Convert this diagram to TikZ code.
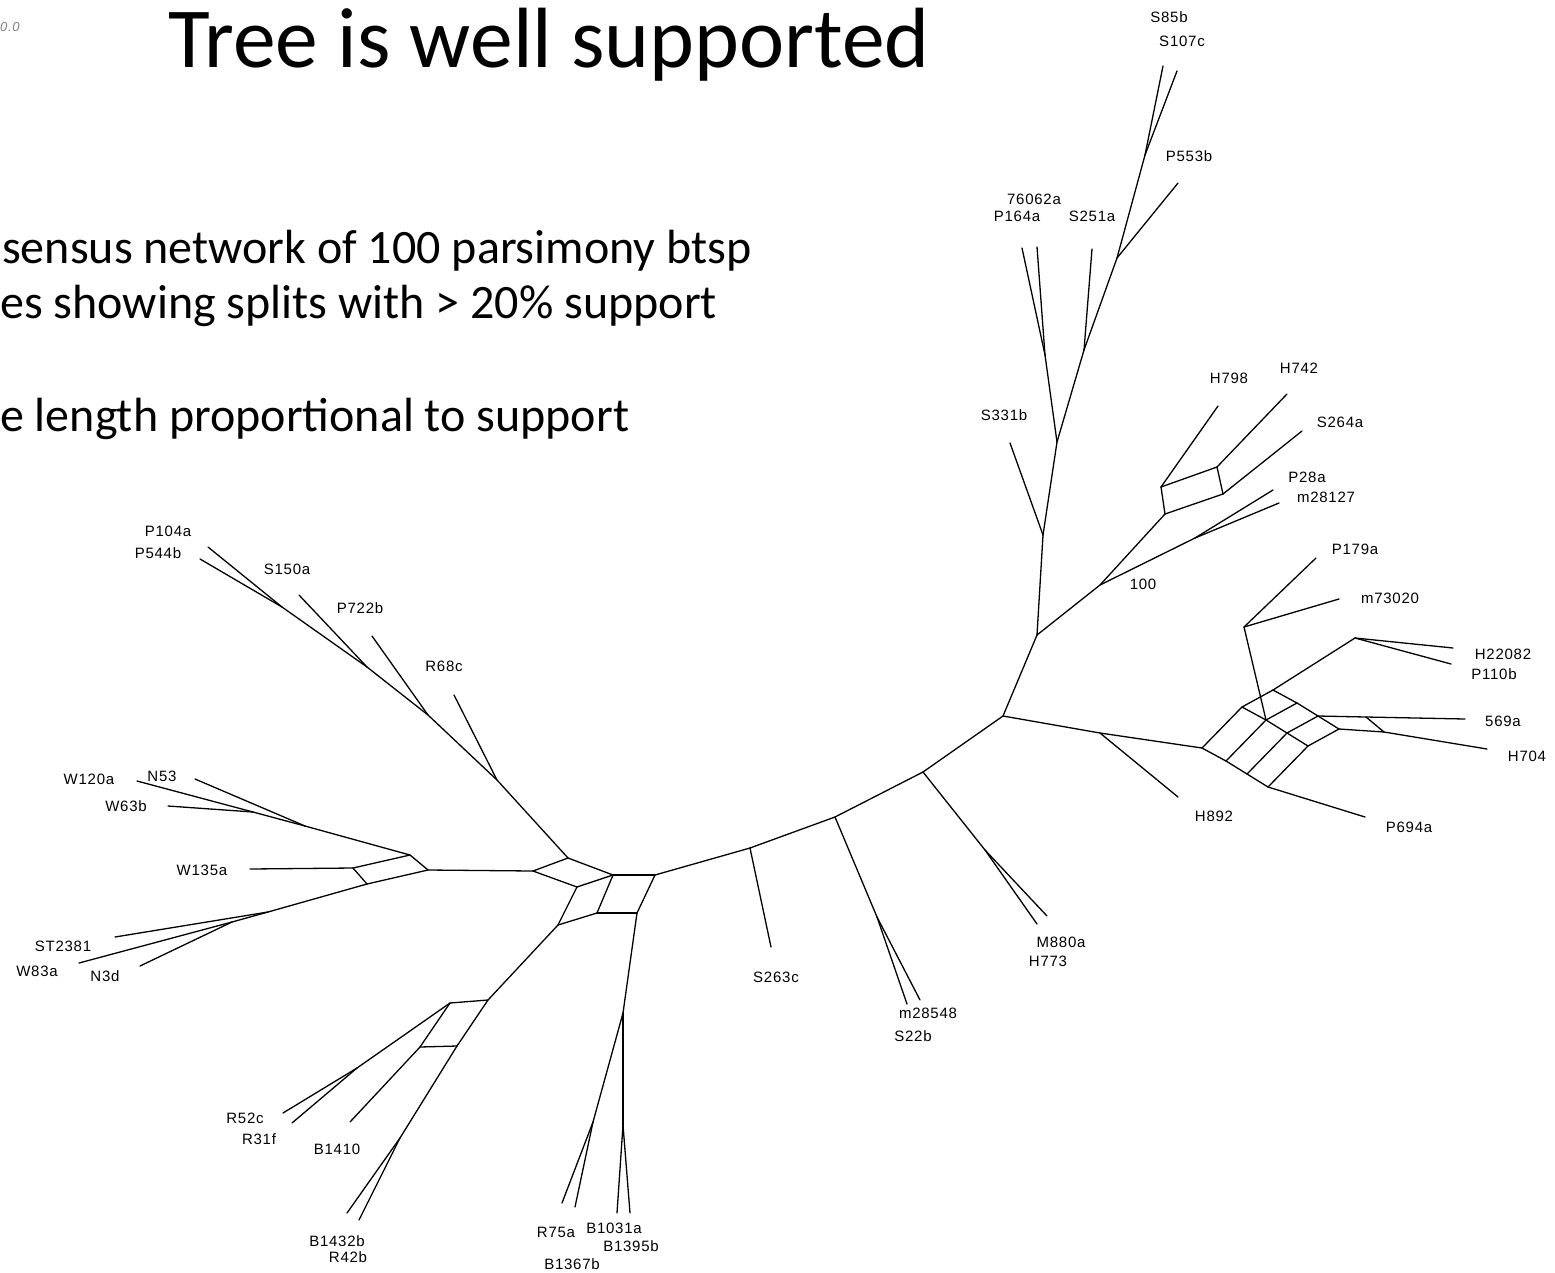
\documentclass[tikz,border=0pt]{standalone}
\usepackage{fontspec}
\setmainfont{Carlito}
\newfontfamily\labfont[LetterSpace=5]{Liberation Sans}
\begin{document}
\begin{tikzpicture}[x=1pt,y=-1pt,
  edge/.style={line width=1.3pt, line cap=round, line join=round},
  lab/.style={font=\labfont\fontsize{15}{15}\selectfont, inner sep=0pt},
  body/.style={font=\fontsize{48}{56}\selectfont, anchor=base west, inner sep=0pt}]
\useasboundingbox (0,0) rectangle (1555,1272);

% ---------- headings ----------
\node[font=\fontsize{85.5}{90}\selectfont, anchor=base west, inner sep=0pt] (title) at (168,67) {Tree is well supported};
\node[body] (line1) at (2,263) {sensus network of 100 parsimony btsp};
\node[body] (line2) at (0,318) {es showing splits with > 20\% support};
\node[body] (line3) at (0,431) {e length proportional to support};
\node[font=\labfont\itshape\fontsize{13}{13}\selectfont, text=gray, anchor=west, inner sep=0pt] (scalebar) at (0,27) {0.0};

% ---------- central reticulation ----------
\coordinate (C1) at (568,858);
\coordinate (C2) at (533,871);
\coordinate (C3) at (577,887);
\coordinate (C4) at (613,875);
\coordinate (C5) at (655,875);
\coordinate (C6) at (597,913);
\coordinate (C7) at (637,913);
\coordinate (C8) at (558,925);

% ---------- arc towards the right ----------
\coordinate (A1) at (750,848);
\coordinate (A2) at (835,817);
\coordinate (A3) at (923,772);
\coordinate (A4) at (1003,716);
\coordinate (J1) at (877,917);
\coordinate (J2) at (985,850);
\coordinate (R1) at (1100,733);

% ---------- upper trunk ----------
\coordinate (T1) at (1037,635);
\coordinate (T2) at (1043,535);
\coordinate (T3) at (1057,442);
\coordinate (T4) at (1045,355);
\coordinate (T5) at (1084,350);
\coordinate (T6) at (1117,258);
\coordinate (T7) at (1145,155);

% ---------- clade with support 100 ----------
\coordinate (U1) at (1100,585);
\coordinate (U2) at (1195,538);
\coordinate (B1) at (1165,514);
\coordinate (B2) at (1161,487);
\coordinate (B3) at (1217,467);
\coordinate (B4) at (1223,494);

% ---------- right grid ----------
\coordinate (N00) at (1202,748);
\coordinate (N01) at (1226,761);
\coordinate (N02) at (1247,774);
\coordinate (N03) at (1268,787);
\coordinate (N10) at (1242,707);
\coordinate (N11) at (1266,720);
\coordinate (N12) at (1287,733);
\coordinate (N13) at (1308,746);
\coordinate (N20) at (1273,690);
\coordinate (N21) at (1297,703);
\coordinate (N22) at (1318,716);
\coordinate (N23) at (1339,729);
\coordinate (V) at (1244,627);
\coordinate (H1) at (1355,638);
\coordinate (P1) at (1366,717);
\coordinate (Q1) at (1384,732);

% ---------- left groups ----------
\coordinate (W0) at (428,870);
\coordinate (W1) at (410,855);
\coordinate (W2) at (353,868);
\coordinate (W3) at (367,884);
\coordinate (M1) at (253,812);
\coordinate (M2) at (305,826);
\coordinate (G1) at (268,912);
\coordinate (G2) at (232,922);
\coordinate (K1) at (282,607);
\coordinate (K2) at (367,667);
\coordinate (K3) at (428,715);
\coordinate (K4) at (497,780);

% ---------- lower groups ----------
\coordinate (D1) at (488,1000);
\coordinate (D0) at (450,1003);
\coordinate (D2) at (420,1047);
\coordinate (D3) at (457,1046);
\coordinate (D4) at (357,1068);
\coordinate (D5) at (400,1138);
\coordinate (E1) at (623,1013);
\coordinate (E2) at (623,1125);
\coordinate (E3) at (593,1122);

% ---------- leaf ends ----------
\coordinate (xS85b) at (1163,66);
\coordinate (xS107c) at (1177,71);
\coordinate (xP553b) at (1178,183);
\coordinate (xP164a) at (1022,248);
\coordinate (x76062a) at (1037,247);
\coordinate (xS251a) at (1092,249);
\coordinate (xS331b) at (1010,443);
\coordinate (xH798) at (1218,406);
\coordinate (xH742) at (1287,394);
\coordinate (xS264a) at (1302,431);
\coordinate (xP28a) at (1273,490);
\coordinate (xm28127) at (1279,503);
\coordinate (xP179a) at (1316,558);
\coordinate (xm73020) at (1339,599);
\coordinate (xH22082) at (1453,648);
\coordinate (xP110b) at (1451,664);
\coordinate (x569a) at (1465,719);
\coordinate (xH704) at (1487,749);
\coordinate (xH892) at (1178,797);
\coordinate (xP694a) at (1365,817);
\coordinate (xM880a) at (1047,916);
\coordinate (xH773) at (1037,924);
\coordinate (xm28548) at (920,1000);
\coordinate (xS22b) at (907,1004);
\coordinate (xS263c) at (771,947);
\coordinate (xR75a) at (562,1203);
\coordinate (xB1367b) at (575,1207);
\coordinate (xB1031a) at (617,1213);
\coordinate (xB1395b) at (630,1213);
\coordinate (xR52c) at (283,1113);
\coordinate (xR31f) at (292,1123);
\coordinate (xB1410) at (350,1122);
\coordinate (xB1432b) at (347,1213);
\coordinate (xR42b) at (359,1220);
\coordinate (xST2381) at (115,937);
\coordinate (xW83a) at (79,963);
\coordinate (xN3d) at (140,966);
\coordinate (xW135a) at (250,869);
\coordinate (xW120a) at (137,781);
\coordinate (xN53) at (195,779);
\coordinate (xW63b) at (168,806);
\coordinate (xP104a) at (208,547);
\coordinate (xP544b) at (200,559);
\coordinate (xS150a) at (299,595);
\coordinate (xP722b) at (372,636);
\coordinate (xR68c) at (454,695);

% ---------- edges ----------
\foreach \a/\b in {
  C2/C1, C1/C4, C4/C3, C3/C2, C4/C5, C4/C6, C5/C7, C6/C7, C3/C8, C8/C6,
  C5/A1, A1/A2, A2/A3, A3/A4,
  A1/xS263c, A2/J1, J1/xm28548, J1/xS22b, A3/J2, J2/xM880a, J2/xH773,
  A4/R1, R1/N00, R1/xH892,
  A4/T1, T1/T2, T2/T3, T2/xS331b, T3/T4, T4/xP164a, T4/x76062a,
  T3/T5, T5/xS251a, T5/T6, T6/xP553b, T6/T7, T7/xS85b, T7/xS107c,
  T1/U1, U1/B1, U1/U2, U2/xP28a, U2/xm28127,
  B1/B2, B2/B3, B3/B4, B4/B1, B2/xH798, B3/xH742, B4/xS264a,
  N00/N01, N01/N02, N02/N03, N10/N11, N11/N12, N12/N13, N20/N21, N21/N22, N22/N23,
  N00/N10, N10/N20, N01/N11, N11/N21, N02/N12, N12/N22, N03/N13, N13/N23,
  V/xP179a, V/xm73020, V/N11,
  N20/H1, H1/xH22082, H1/xP110b,
  N22/P1, P1/x569a, N23/Q1, Q1/xH704, P1/Q1,
  N03/xP694a,
  C2/W0, W0/W1, W1/W2, W2/W3, W3/W0, W2/xW135a,
  W1/M2, M2/xN53, M2/M1, M1/xW120a, M1/xW63b,
  W3/G1, G1/xST2381, G1/G2, G2/xW83a, G2/xN3d,
  C1/K4, K4/xR68c, K4/K3, K3/xP722b, K3/K2, K2/xS150a, K2/K1, K1/xP104a, K1/xP544b,
  C8/D1, D1/D0, D0/D2, D2/D3, D3/D1, D0/D4, D4/xR52c, D4/xR31f, D2/xB1410,
  D3/D5, D5/xB1432b, D5/xR42b,
  C7/E1, E1/E2, E2/xB1031a, E2/xB1395b, E1/E3, E3/xR75a, E3/xB1367b}
  \draw[edge] (\a) -- (\b);

% ---------- labels ----------
\node[lab] (tS85b) at (1169,17) {S85b};
\node[lab] (tS107c) at (1182,41) {S107c};
\node[lab] (tP553b) at (1189,156) {P553b};
\node[lab] (t76062a) at (1034,199) {76062a};
\node[lab] (tP164a) at (1017,216) {P164a};
\node[lab] (tS251a) at (1092,216) {S251a};
\node[lab] (tS331b) at (1004,415) {S331b};
\node[lab] (tH798) at (1229,378) {H798};
\node[lab] (tH742) at (1299,368) {H742};
\node[lab] (tS264a) at (1340,422) {S264a};
\node[lab] (tP28a) at (1307,477) {P28a};
\node[lab] (tm28127) at (1326,497) {m28127};
\node[lab] (t100) at (1143,584) {100};
\node[lab] (tP179a) at (1355,549) {P179a};
\node[lab] (tm73020) at (1390,598) {m73020};
\node[lab] (tH22082) at (1503,654) {H22082};
\node[lab] (tP110b) at (1494,674) {P110b};
\node[lab] (t569a) at (1503,721) {569a};
\node[lab] (tH704) at (1527,756) {H704};
\node[lab] (tH892) at (1214,816) {H892};
\node[lab] (tP694a) at (1409,827) {P694a};
\node[lab] (tM880a) at (1061,942) {M880a};
\node[lab] (tH773) at (1048,961) {H773};
\node[lab] (tm28548) at (928,1013) {m28548};
\node[lab] (tS22b) at (913,1036) {S22b};
\node[lab] (tS263c) at (776,977) {S263c};
\node[lab] (tR75a) at (556,1232) {R75a};
\node[lab] (tB1031a) at (614,1228) {B1031a};
\node[lab] (tB1395b) at (631,1246) {B1395b};
\node[lab] (tB1367b) at (572,1264) {B1367b};
\node[lab] (tB1432b) at (337,1241) {B1432b};
\node[lab] (tR42b) at (348,1257) {R42b};
\node[lab] (tR52c) at (245,1118) {R52c};
\node[lab] (tR31f) at (259,1139) {R31f};
\node[lab] (tB1410) at (337,1149) {B1410};
\node[lab] (tST2381) at (63,946) {ST2381};
\node[lab] (tW83a) at (37,971) {W83a};
\node[lab] (tN3d) at (105,976) {N3d};
\node[lab] (tW135a) at (202,870) {W135a};
\node[lab] (tW120a) at (89,779) {W120a};
\node[lab] (tN53) at (162,776) {N53};
\node[lab] (tW63b) at (126,806) {W63b};
\node[lab] (tP104a) at (168,531) {P104a};
\node[lab] (tP544b) at (158,553) {P544b};
\node[lab] (tS150a) at (287,569) {S150a};
\node[lab] (tP722b) at (360,608) {P722b};
\node[lab] (tR68c) at (444,666) {R68c};
\end{tikzpicture}
\end{document}
